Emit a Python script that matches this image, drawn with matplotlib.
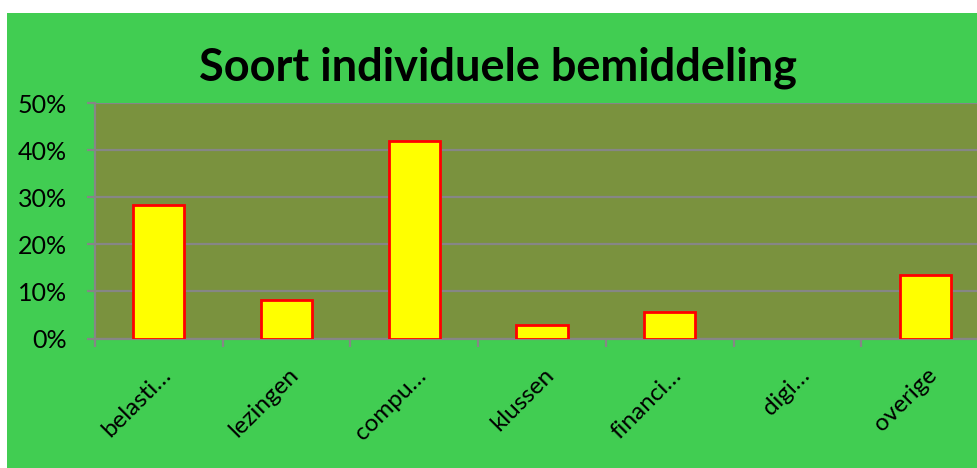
import matplotlib
matplotlib.use("Agg")
import matplotlib.pyplot as plt
from matplotlib.patches import Rectangle
from matplotlib.ticker import FixedLocator, PercentFormatter

categories = ["belasti…", "lezingen", "compu…", "klussen", "financi…", "digi…", "overige"]
values = [28.4, 8.2, 42.0, 2.8, 5.6, 0.0, 13.6]
yticks = [0, 10, 20, 30, 40, 50]
title = "Soort individuele bemiddeling"

W, H = 977, 468
fig = plt.figure(figsize=(W / 100, H / 100), dpi=100, facecolor="white")
fig.patches.append(Rectangle((7 / W, 0), 1 - 7 / W, (H - 13) / H, transform=fig.transFigure,
                             facecolor="#41CD52", edgecolor="none", zorder=-5))

left, right = 95, 989
bottom, top = 338.5, 103.3
ax = fig.add_axes([left / W, (H - bottom) / H, (right - left) / W, (bottom - top) / H])
ax.set_zorder(1)
ax.set_facecolor("#7A923E")
grey = "#868686"

x = list(range(len(categories)))
edges = ["#FF0000" if v > 0 else "none" for v in values]
ax.bar(x, values, width=0.4, color="#FFFF00", edgecolor=edges, linewidth=2, zorder=3)
ax.set_xlim(-0.5, len(categories) - 0.5)
ax.set_ylim(0, 50)
ax.yaxis.set_major_locator(FixedLocator(yticks))
ax.yaxis.set_major_formatter(PercentFormatter(decimals=0))
ax.grid(axis="y", color=grey, linewidth=1.6, zorder=1)
ax.set_axisbelow(True)

for s in ["top", "right"]:
    ax.spines[s].set_visible(False)
for s in ["left", "bottom"]:
    ax.spines[s].set_color(grey)
    ax.spines[s].set_linewidth(1.6)
    ax.spines[s].set_zorder(2)

ax.tick_params(axis="y", length=6, width=1.6, color=grey, pad=14, labelsize=18)
for lab in ax.get_yticklabels():
    lab.set_fontfamily("Lato")
ax.set_xticks([i - 0.5 for i in range(len(categories) + 1)])
ax.set_xticklabels([])
ax.tick_params(axis="x", length=6, width=1.6, color=grey)

for i, c in enumerate(categories):
    ax.annotate(c, xy=(i, 0), xycoords="data", xytext=(6, -24), textcoords="offset points",
                rotation=45, ha="right", va="center", rotation_mode="anchor",
                fontsize=17.5, fontfamily="Lato", color="black")

fig.text(498 / W, 1 - 68 / H, title, ha="center", va="center", fontsize=32.5,
         fontweight="bold", fontfamily="Lato", color="black")

fig.savefig("out.png", dpi=100, facecolor="white")
